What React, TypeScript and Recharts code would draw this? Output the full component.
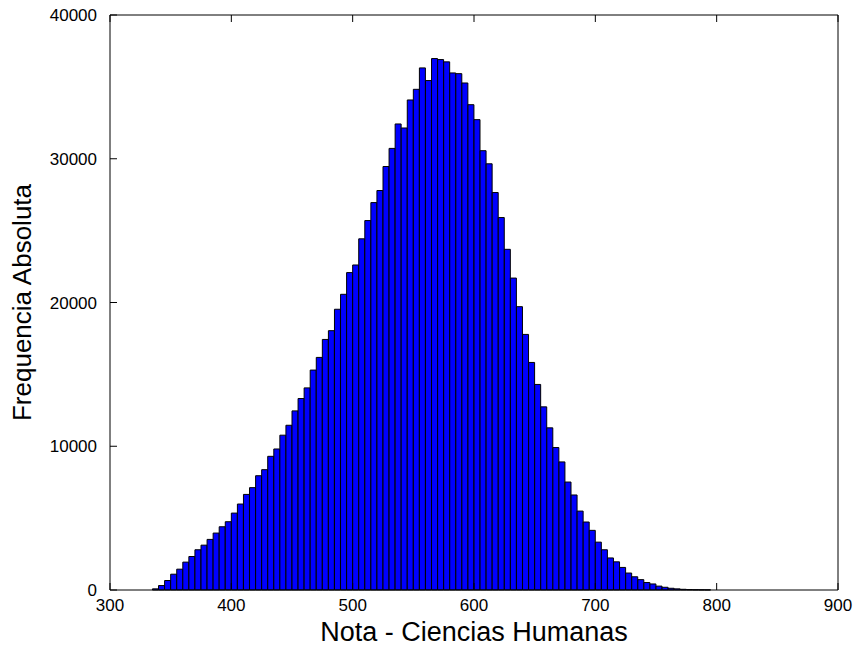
import React from "react";
import { BarChart, Bar, XAxis, YAxis } from "recharts";

// bin centres (5-point bins)
const binCenters = [
  337.5, 342.5, 347.5, 352.5, 357.5, 362.5, 367.5, 372.5, 377.5, 382.5,
  387.5, 392.5, 397.5, 402.5, 407.5, 412.5, 417.5, 422.5, 427.5, 432.5,
  437.5, 442.5, 447.5, 452.5, 457.5, 462.5, 467.5, 472.5, 477.5, 482.5,
  487.5, 492.5, 497.5, 502.5, 507.5, 512.5, 517.5, 522.5, 527.5, 532.5,
  537.5, 542.5, 547.5, 552.5, 557.5, 562.5, 567.5, 572.5, 577.5, 582.5,
  587.5, 592.5, 597.5, 602.5, 607.5, 612.5, 617.5, 622.5, 627.5, 632.5,
  637.5, 642.5, 647.5, 652.5, 657.5, 662.5, 667.5, 672.5, 677.5, 682.5,
  687.5, 692.5, 697.5, 702.5, 707.5, 712.5, 717.5, 722.5, 727.5, 732.5,
  737.5, 742.5, 747.5, 752.5, 757.5, 762.5, 767.5, 772.5, 777.5, 782.5,
  787.5, 792.5,
];

const counts = [
  80, 310, 660, 1100, 1450, 1940, 2330, 2800, 3120, 3520,
  3960, 4400, 4750, 5350, 5980, 6650, 7120, 7950, 8370, 9300,
  9810, 10770, 11460, 12460, 13320, 14060, 15300, 16180, 17430, 18040,
  19530, 20570, 22080, 22610, 24430, 25700, 26950, 27790, 29460, 30720,
  32420, 32140, 34090, 34830, 36320, 35440, 36970, 36900, 36740, 35970,
  35920, 35270, 33760, 32720, 30560, 29650, 27650, 25910, 23700, 21700,
  19710, 17780, 15830, 14300, 12740, 11280, 9910, 8910, 7510, 6610,
  5490, 4730, 4150, 3330, 2800, 2230, 1960, 1570, 1180, 920,
  720, 520, 420, 270, 190, 120, 80, 50, 30, 20,
  15, 10,
];

const xTicks = [300, 400, 500, 600, 700, 800, 900];
const yTicks = [0, 10000, 20000, 30000, 40000];

const data = binCenters.map((x, i) => ({ x, count: counts[i] }));

const FONT = "'Liberation Sans', Arial, sans-serif";
const TICK_LEN = 7;

const BottomTick = (props: any) => {
  const { x, y, payload } = props;
  return (
    <g>
      <line x1={x} x2={x} y1={y} y2={y - TICK_LEN} stroke="#000" />
      <text x={x} y={y + 21} textAnchor="middle" fontSize={17} fontFamily={FONT} fill="#000">
        {payload.value}
      </text>
    </g>
  );
};

const LeftTick = (props: any) => {
  const { x, y, payload } = props;
  return (
    <g>
      <line x1={x} x2={x + TICK_LEN} y1={y} y2={y} stroke="#000" />
      <text x={x - 13} y={y + 6} textAnchor="end" fontSize={17} fontFamily={FONT} fill="#000">
        {payload.value}
      </text>
    </g>
  );
};

const TopTick = (props: any) => {
  const { x, y } = props;
  return <line x1={x} x2={x} y1={y} y2={y + TICK_LEN} stroke="#000" />;
};

const RightTick = (props: any) => {
  const { x, y } = props;
  return <line x1={x} x2={x - TICK_LEN} y1={y} y2={y} stroke="#000" />;
};

export default function App() {
  return (
    <div style={{ position: "absolute", left: 0, top: 0, width: 857, height: 648, background: "#fff" }}>
      <BarChart
        width={857}
        height={648}
        data={data}
        margin={{ top: 0, right: 0, bottom: 0, left: 0 }}
        barCategoryGap={0}
        barGap={0}
      >
        <XAxis
          xAxisId="b"
          dataKey="x"
          type="number"
          domain={[300, 900]}
          ticks={xTicks}
          interval={0}
          height={58}
          tickSize={0}
          tickMargin={0}
          tickLine={false}
          axisLine={{ stroke: "#000" }}
          tick={<BottomTick />}
          label={{
            value: "Nota - Ciencias Humanas",
            position: "insideBottom",
            offset: 7,
            style: { fontSize: 27, fontFamily: FONT, fill: "#000" },
          }}
        />
        <XAxis
          xAxisId="t"
          orientation="top"
          dataKey="x"
          type="number"
          domain={[300, 900]}
          ticks={xTicks}
          interval={0}
          height={15}
          tickSize={0}
          tickMargin={0}
          tickLine={false}
          axisLine={{ stroke: "#000" }}
          tick={<TopTick />}
        />
        <YAxis
          yAxisId="l"
          type="number"
          domain={[0, 40000]}
          ticks={yTicks}
          interval={0}
          width={110}
          tickSize={0}
          tickMargin={0}
          tickLine={false}
          axisLine={{ stroke: "#000" }}
          tick={<LeftTick />}
          label={{
            value: "Frequencia Absoluta",
            angle: -90,
            position: "insideLeft",
            offset: 22,
            style: { fontSize: 26, fontFamily: FONT, fill: "#000", textAnchor: "middle" },
          }}
        />
        <YAxis
          yAxisId="r"
          orientation="right"
          type="number"
          domain={[0, 40000]}
          ticks={yTicks}
          interval={0}
          width={19}
          tickSize={0}
          tickMargin={0}
          tickLine={false}
          axisLine={{ stroke: "#000" }}
          tick={<RightTick />}
        />
        <Bar
          xAxisId="b"
          yAxisId="l"
          dataKey="count"
          fill="#0000ff"
          stroke="#000"
          strokeWidth={1}
          isAnimationActive={false}
        />
      </BarChart>
    </div>
  );
}
